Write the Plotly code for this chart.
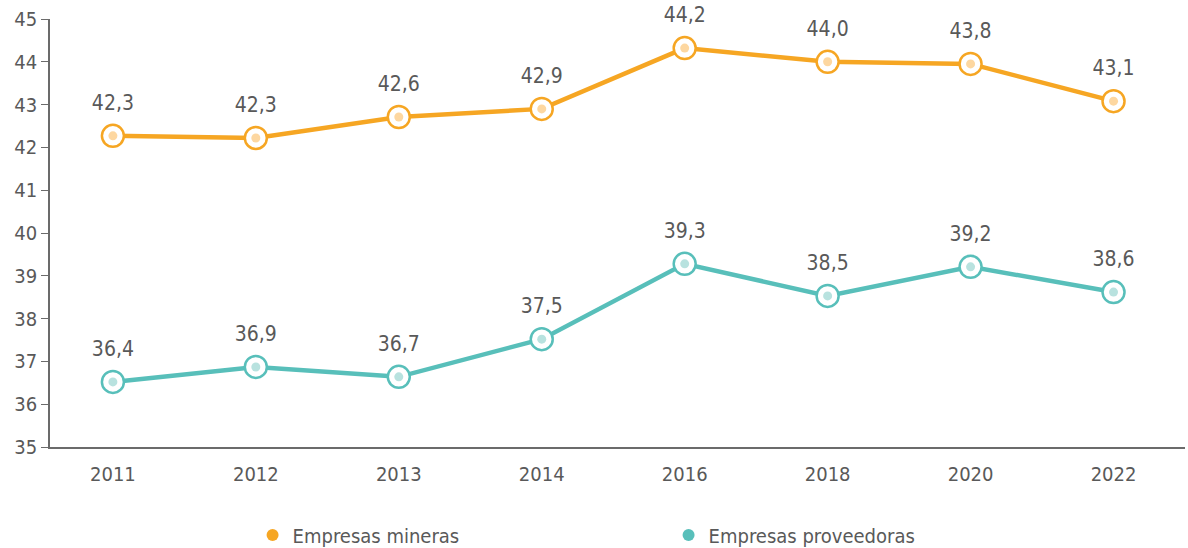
import plotly.graph_objects as go

years = ["2011", "2012", "2013", "2014", "2016", "2018", "2020", "2022"]
mineras = [42.27, 42.22, 42.71, 42.90, 44.32, 44.00, 43.95, 43.08]
mineras_labels = ["42,3", "42,3", "42,6", "42,9", "44,2", "44,0", "43,8", "43,1"]
proveedoras = [36.52, 36.87, 36.64, 37.52, 39.28, 38.53, 39.21, 38.62]
proveedoras_labels = ["36,4", "36,9", "36,7", "37,5", "39,3", "38,5", "39,2", "38,6"]
y_ticks = [35, 36, 37, 38, 39, 40, 41, 42, 43, 44, 45]

FONT = "Liberation Sans Narrow, DejaVu Sans Condensed, Roboto, sans-serif"
TXT = "#595959"
ORANGE = "#F6A623"
ORANGE_L = "#FDD7A0"
TEAL = "#58BFBA"
TEAL_L = "#B8E2DF"

fig = go.Figure()

for name, ys, labels, col, light in [
    ("Empresas mineras", mineras, mineras_labels, ORANGE, ORANGE_L),
    ("Empresas proveedoras", proveedoras, proveedoras_labels, TEAL, TEAL_L),
]:
    fig.add_trace(go.Scatter(
        x=years, y=ys, mode="lines+markers",
        line=dict(color=col, width=4.5),
        marker=dict(size=22, color="white", line=dict(color=col, width=2.5)),
        showlegend=False, hoverinfo="skip", cliponaxis=False,
    ))
    fig.add_trace(go.Scatter(
        x=years, y=ys, mode="markers",
        marker=dict(size=9, color=light),
        showlegend=False, hoverinfo="skip", cliponaxis=False,
    ))
    fig.add_trace(go.Scatter(
        x=years, y=ys, mode="markers+text", text=labels,
        textposition="top center",
        textfont=dict(family=FONT, size=21, color=TXT),
        marker=dict(size=32, color="rgba(0,0,0,0)"),
        showlegend=False, hoverinfo="skip", cliponaxis=False,
    ))
    fig.add_trace(go.Scatter(
        x=[None], y=[None], mode="markers", name=name,
        marker=dict(size=13, color=col),
    ))

fig.update_layout(
    width=1188, height=548,
    margin=dict(l=50, r=3, t=19, b=101, autoexpand=False),
    paper_bgcolor="white", plot_bgcolor="white",
    font=dict(family=FONT, size=20, color=TXT),
    legend=dict(orientation="h", x=0.545, xanchor="center", y=-0.16, yanchor="top",
                font=dict(family=FONT, size=20, color=TXT),
                entrywidth=371, itemsizing="constant"),
)
fig.update_xaxes(
    type="category", range=[-0.44, 7.5], showgrid=False, automargin=False,
    showline=True, linecolor="#6b6b6b", linewidth=1.5,
    ticks="", ticklabelstandoff=8, tickfont=dict(family=FONT, size=20, color=TXT),
)
fig.update_yaxes(
    range=[35, 45], tickvals=y_ticks, showgrid=False, zeroline=False, automargin=False,
    showline=True, linecolor="#6b6b6b", linewidth=1.5,
    ticks="outside", ticklen=7, tickcolor="#6b6b6b",
    tickfont=dict(family=FONT, size=20, color=TXT),
)

fig.write_html("out.html", config={"displayModeBar": False},
               post_script="document.body.style.margin='0';document.body.style.overflow='hidden';")
